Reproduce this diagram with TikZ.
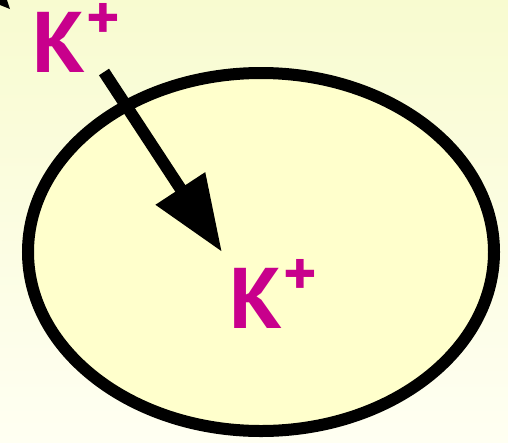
\documentclass[tikz,border=0pt]{standalone}
\usepackage{fontspec}
\setmainfont{PT Sans}
\usetikzlibrary{arrows.meta}
\definecolor{ionpink}{HTML}{C8008C}
\definecolor{celltint}{HTML}{FFFFCC}
\definecolor{bgtop}{HTML}{F8FBD0}
\definecolor{bgbottom}{HTML}{FFFFF2}
\newcommand{\ionname}[1]{#1\kern1pt\raisebox{33pt}{\fontsize{64}{64}\selectfont +}}
\tikzset{
  ionlabel/.style={text=ionpink, font=\fontsize{86}{86}\selectfont\bfseries, inner sep=0pt, anchor=base west},
  fluxarrow/.style={line width=12pt, -{Triangle[length=76pt, width=56pt]}}
}
\begin{document}
\begin{tikzpicture}[x=1pt, y=-1pt]
    % background
    \shade[top color=bgtop, bottom color=bgbottom] (0,0) rectangle (508,442);
    \useasboundingbox (0,0) rectangle (508,442);

    % tip of an arrow from outside the frame
    \fill (0,0) -- (7,0) -- (10,9) -- (0,5) -- cycle;

    % the cell
    \draw[line width=12pt, fill=celltint] (261,252) ellipse (233pt and 179pt);

    % ions
    \node[ionlabel] (kout) at (32,72) {\ionname{K}};
    \node[ionlabel] (kin) at (229,328) {\ionname{K}};

    % flux into the cell
    \coordinate (tail) at (104,72);
    \coordinate (tip) at (222,252);
    \draw[fluxarrow] (tail) -- (tip);
\end{tikzpicture}
\end{document}
